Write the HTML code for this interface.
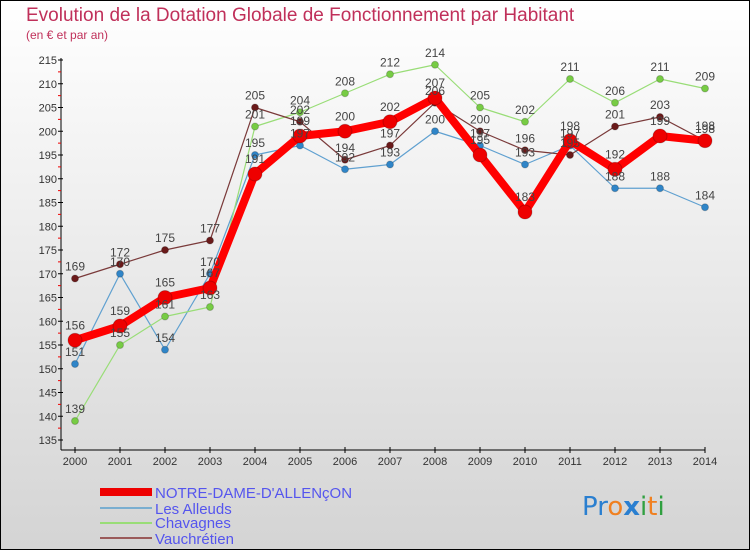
<!DOCTYPE html>
<html><head><meta charset="utf-8"><style>
body{margin:0;width:750px;height:550px;overflow:hidden;font-family:"Liberation Sans",sans-serif}
</style></head><body>
<svg id="chart" width="750" height="550" xmlns="http://www.w3.org/2000/svg">
<defs><linearGradient id="bg" x1="0" y1="0" x2="0" y2="1"><stop offset="0" stop-color="#ffffff"/><stop offset="1" stop-color="#d4d4d4"/></linearGradient></defs>
<rect x="0.5" y="0.5" width="749" height="549" fill="url(#bg)" stroke="#000"/>
<text x="26" y="21" font-size="19" fill="#c0305a">Evolution de la Dotation Globale de Fonctionnement par Habitant</text>
<text x="26" y="39" font-size="12" fill="#c0305a">(en € et par an)</text>
<g id="axes"></g><g id="series"></g><g id="labels"></g>
<g>
<rect x="100" y="488" width="52" height="8" fill="#e00"/>
<text x="155" y="498" font-size="15" fill="#5555ee">NOTRE-DAME-D'ALLENçON</text>
<line x1="100" y1="508" x2="152" y2="508" stroke="#7aaed0" stroke-width="2"/>
<text x="155" y="514" font-size="15" fill="#5555ee">Les Alleuds</text>
<line x1="100" y1="523" x2="152" y2="523" stroke="#99dd77" stroke-width="2"/>
<text x="155" y="528" font-size="15" fill="#5555ee">Chavagnes</text>
<line x1="100" y1="538" x2="152" y2="538" stroke="#9a5a5a" stroke-width="2"/>
<text x="155" y="544" font-size="15" fill="#5555ee">Vauchrétien</text>
</g>
<g font-size="26" font-family="'DejaVu Sans',sans-serif">
<text x="582" y="515"><tspan fill="#2a7fd0">Pr</tspan><tspan fill="#f08020">o</tspan><tspan fill="#2a7fd0" font-weight="bold">x</tspan><tspan fill="#30a040">i</tspan><tspan fill="#f08020">t</tspan><tspan fill="#30a040">i</tspan></text>
</g>
</svg>
<script>
const years=[2000,2001,2002,2003,2004,2005,2006,2007,2008,2009,2010,2011,2012,2013,2014];
const notreDame=[156,159,165,167,191,199,200,202,207,195,183,198,192,199,198];
const lesAlleuds=[151,170,154,170,195,197,192,193,200,197,193,197,188,188,184];
const chavagnes=[139,155,161,163,201,204,208,212,214,205,202,211,206,211,209];
const vauchretien=[169,172,175,177,205,202,194,197,206,200,196,195,201,203,198];
const yTicks=[135,140,145,150,155,160,165,170,175,180,185,190,195,200,205,210,215];
const NS="http://www.w3.org/2000/svg";
const xs=i=>75+i*45;
const ys=v=>440-(v-135)*4.75;
function mk(tag,attrs,parent){const e=document.createElementNS(NS,tag);for(const k in attrs)e.setAttribute(k,attrs[k]);parent.appendChild(e);return e;}
const axes=document.getElementById('axes');
mk('line',{x1:61,y1:58,x2:61,y2:450,stroke:'#000'},axes);
mk('line',{x1:61,y1:450,x2:705,y2:450,stroke:'#000'},axes);
yTicks.forEach(v=>{
  mk('line',{x1:58,y1:ys(v),x2:63,y2:ys(v),stroke:'#000'},axes);
  if(v<215) mk('line',{x1:58,y1:ys(v+2.5),x2:61,y2:ys(v+2.5),stroke:'#e00'},axes);
  const t=mk('text',{x:57,y:ys(v)+4,'font-size':11,'text-anchor':'end',fill:'#333'},axes);
  t.textContent=v;
  
  
});
years.forEach((y,i)=>{
  mk('line',{x1:xs(i),y1:447,x2:xs(i),y2:453,stroke:'#000'},axes);
  const t=mk('text',{x:xs(i),y:465,'font-size':11,'text-anchor':'middle',fill:'#333'},axes);
  t.textContent=y;
  
  
});
const sg=document.getElementById('series'),lg=document.getElementById('labels');
function draw(data,color,dot,width,r,name){
  const p=mk('polyline',{points:data.map((v,i)=>xs(i)+','+ys(v)).join(' '),fill:'none',stroke:color,'stroke-width':width,'stroke-linejoin':'round'},sg);
  
  
  data.forEach((v,i)=>{
    const c=mk('circle',{cx:xs(i),cy:ys(v),r:r,fill:dot,stroke:'rgba(0,0,0,0.2)'},sg);
    
    
    const t=mk('text',{x:xs(i),y:ys(v)-8-(r>4?3:0),'font-size':12,'text-anchor':'middle',fill:'#444'},lg);
    t.textContent=v;
    
    
  });
}
draw(lesAlleuds,'#5fa0d0','#2f85c8',1.2,3.5,'les-alleuds');
draw(chavagnes,'#99dd77','#77cc44',1.2,3.5,'chavagnes');
draw(vauchretien,'#7a3a3a','#6a1a1a',1.2,3.5,'vauchretien');
draw(notreDame,'#ff0000','#ee0000',8,7,'notre-dame');
</script>
</body></html>
